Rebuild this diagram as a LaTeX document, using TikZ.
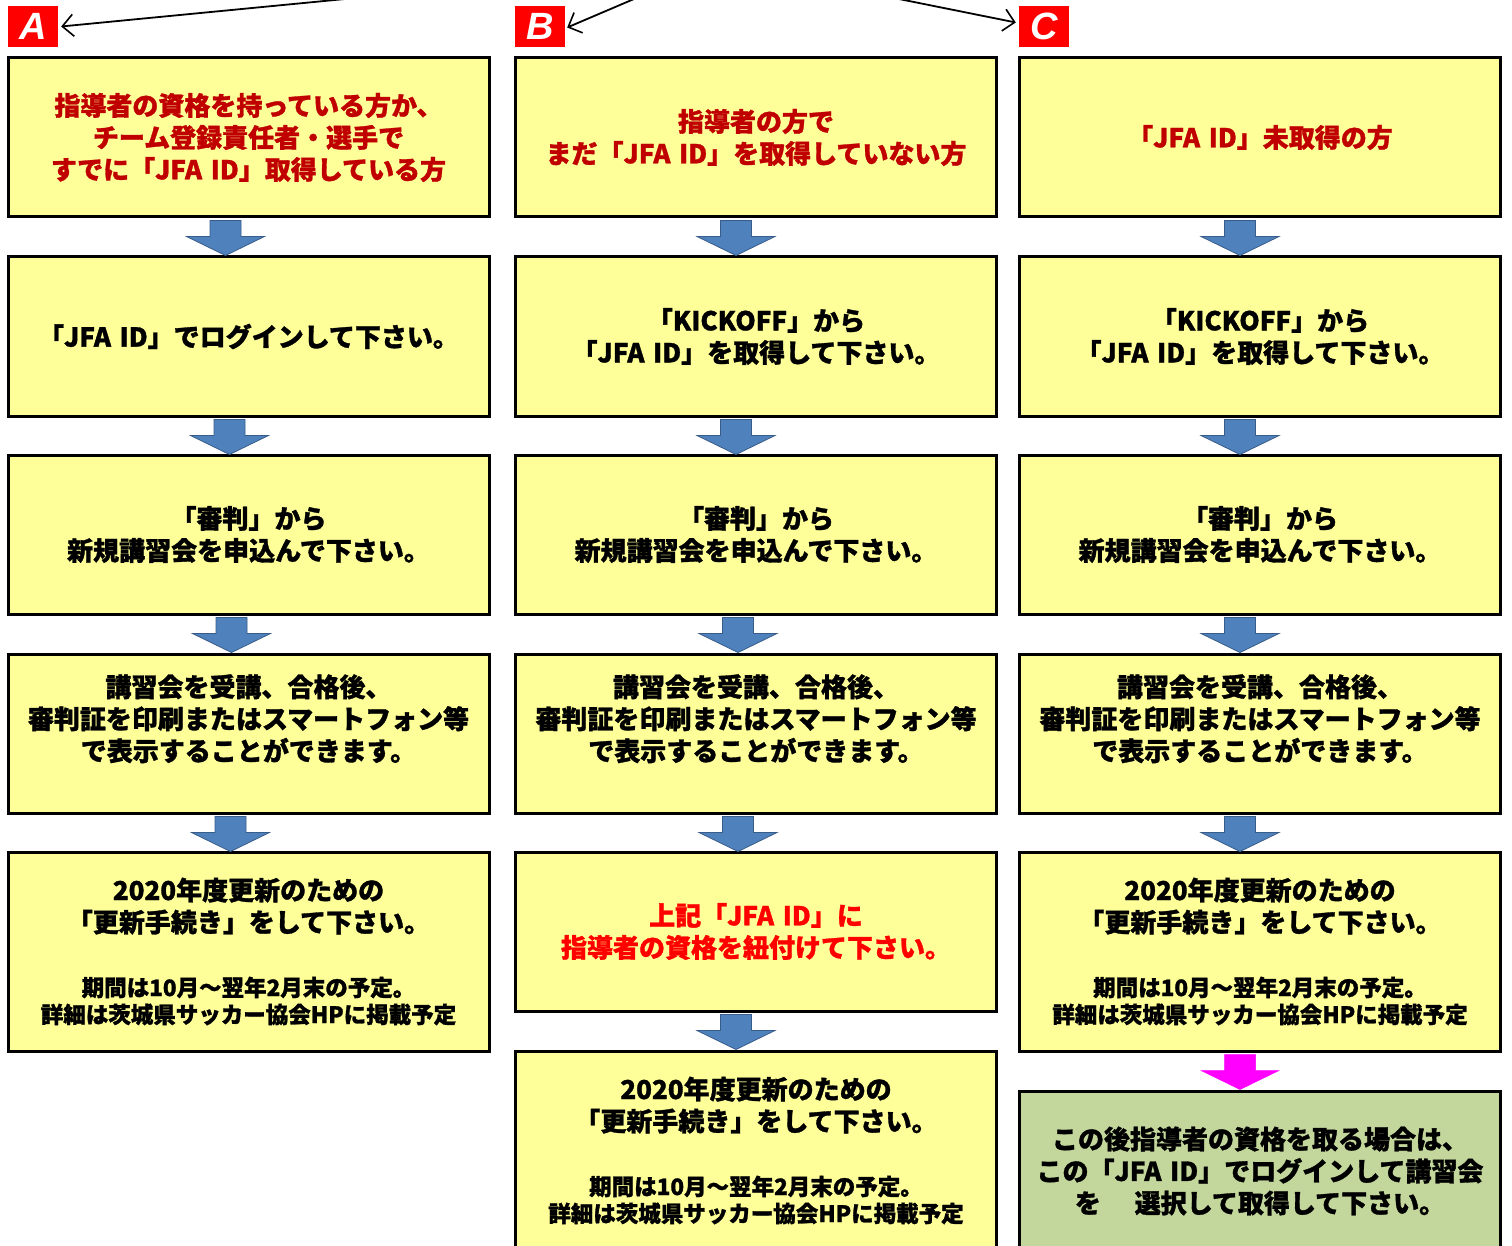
\documentclass[tikz,border=0pt]{standalone}
\usepackage{fontspec}
\newfontfamily\jp{Noto Sans CJK JP}[BoldFeatures={FakeBold=1.2}]
\newfontfamily\labfont{Liberation Sans}
\usetikzlibrary{calc,arrows.meta}
\definecolor{boxyellow}{HTML}{FFFF99}
\definecolor{boxgreen}{HTML}{C3D69B}
\definecolor{darkred}{HTML}{C00000}
\definecolor{arrblue}{HTML}{4F81BD}
\definecolor{arrblueedge}{HTML}{385D8A}
\definecolor{arrmagenta}{HTML}{FF00FF}
\newcommand\bigtxt{\jp\bfseries\fontsize{26}{32}\selectfont}
\newcommand\smalltxt{\jp\bfseries\fontsize{22.5}{27}\selectfont}
\begin{document}
\begin{tikzpicture}[x=1pt,y=-1pt,
  flowbox/.style={draw=black, line width=3pt, fill=boxyellow, minimum width=481pt,
    minimum height=159pt, inner sep=0pt, text width=475pt, align=center, font=\bigtxt},
  tallbox/.style={flowbox, minimum height=199pt},
  greenbox/.style={flowbox, fill=boxgreen, minimum height=160pt},
  letterbox/.style={fill=red, minimum width=50pt, minimum height=41pt, inner sep=0pt,
    text=white, font=\labfont\bfseries\itshape\fontsize{38}{38}\selectfont},
  toparr/.style={draw=black, line width=1.8pt, -{Straight Barb[length=11pt,width=22pt,line width=1.6pt]}},
  bluearr/.style={fill=arrblue, draw=arrblueedge, line width=0.8pt},
  pinkarr/.style={fill=arrmagenta, draw=arrmagenta, line width=0.5pt},
  downarr/.pic={\path[pic actions] (-15.5,2) -- (15.5,2) -- (15.5,18) -- (39,18) -- (0,37) -- (-39,18) -- (-15.5,18) -- cycle;}
]
\useasboundingbox (0,0) rectangle (1512,1246);
\clip (0,0) rectangle (1512,1246);
\fill[white] (0,0) rectangle (1512,1246);

% letter labels
\node[letterbox] (la) at (33,26.5) {A};
\node[letterbox] (lb) at (540,26.5) {B};
\node[letterbox] (lc) at (1044,26.5) {C};
\coordinate (srcA) at (345,-1);
\coordinate (srcB) at (634,-1);
\coordinate (srcC) at (899,-1);
\draw[toparr] (srcA) -- ($(la.east)+(3,0)$);
\draw[toparr] (srcB) -- ($(lb.east)+(2,1)$);
\draw[toparr] (srcC) -- ($(lc.west)+(-3,-4)$);

% column A
\node[flowbox, text=darkred] (a1) at (248.5,137.5) {指導者の資格を持っている方か、\\チーム登録責任者・選手で\\すでに「JFA ID」取得している方};
\node[flowbox] (a2) at (248.5,336.5) {「JFA ID」でログインして下さい。};
\node[flowbox] (a3) at (248.5,534.5) {「審判」から\\新規講習会を申込んで下さい。};
\node[flowbox] (a4) at (248.5,733.5) {講習会を受講、合格後、\\審判証を印刷またはスマートフォン等\\で表示することができます。\\\mbox{}};
\node[tallbox] (a5) at (248.5,951.5) {2020年度更新のための\\「更新手続き」をして下さい。\par\vspace{37pt}{\smalltxt 期間は10月～翌年2月末の予定。\\詳細は茨城県サッカー協会HPに掲載予定\par}};

% column B
\node[flowbox, text=darkred] (b1) at (756,137.5) {指導者の方で\\まだ「JFA ID」を取得していない方};
\node[flowbox] (b2) at (756,336.5) {「KICKOFF」から\\「JFA ID」を取得して下さい。};
\node[flowbox] (b3) at (756,534.5) {「審判」から\\新規講習会を申込んで下さい。};
\node[flowbox] (b4) at (756,733.5) {講習会を受講、合格後、\\審判証を印刷またはスマートフォン等\\で表示することができます。\\\mbox{}};
\node[flowbox, text=red] (b5) at (756,931.5) {上記「JFA ID」に\\指導者の資格を紐付けて下さい。};
\node[tallbox] (b6) at (756,1150.5) {2020年度更新のための\\「更新手続き」をして下さい。\par\vspace{37pt}{\smalltxt 期間は10月～翌年2月末の予定。\\詳細は茨城県サッカー協会HPに掲載予定\par}};

% column C
\node[flowbox, text=darkred] (c1) at (1260,137.5) {「JFA ID」未取得の方};
\node[flowbox] (c2) at (1260,336.5) {「KICKOFF」から\\「JFA ID」を取得して下さい。};
\node[flowbox] (c3) at (1260,534.5) {「審判」から\\新規講習会を申込んで下さい。};
\node[flowbox] (c4) at (1260,733.5) {講習会を受講、合格後、\\審判証を印刷またはスマートフォン等\\で表示することができます。\\\mbox{}};
\node[tallbox] (c5) at (1260,951.5) {2020年度更新のための\\「更新手続き」をして下さい。\par\vspace{37pt}{\smalltxt 期間は10月～翌年2月末の予定。\\詳細は茨城県サッカー協会HPに掲載予定\par}};
\node[greenbox] (c6) at (1260,1171) {この後指導者の資格を取る場合は、\\この「JFA ID」でログインして講習会\\を\hspace{1.3em}選択して取得して下さい。};

% block arrows
\pic[bluearr] at ($(a1.south)+(-23,0)$) {downarr};
\pic[bluearr] at ($(a2.south)+(-19,0)$) {downarr};
\pic[bluearr] at ($(a3.south)+(-17,0)$) {downarr};
\pic[bluearr] at ($(a4.south)+(-18,0)$) {downarr};
\pic[bluearr] at ($(b1.south)+(-20,0)$) {downarr};
\pic[bluearr] at ($(b2.south)+(-20,0)$) {downarr};
\pic[bluearr] at ($(b3.south)+(-18,0)$) {downarr};
\pic[bluearr] at ($(b4.south)+(-18,0)$) {downarr};
\pic[bluearr] at ($(b5.south)+(-20,0)$) {downarr};
\pic[bluearr] at ($(c1.south)+(-20,0)$) {downarr};
\pic[bluearr] at ($(c2.south)+(-20,0)$) {downarr};
\pic[bluearr] at ($(c3.south)+(-20,0)$) {downarr};
\pic[bluearr] at ($(c4.south)+(-20,0)$) {downarr};
\pic[pinkarr] at ($(c5.south)+(-20,0)$) {downarr};
\end{tikzpicture}
\end{document}
